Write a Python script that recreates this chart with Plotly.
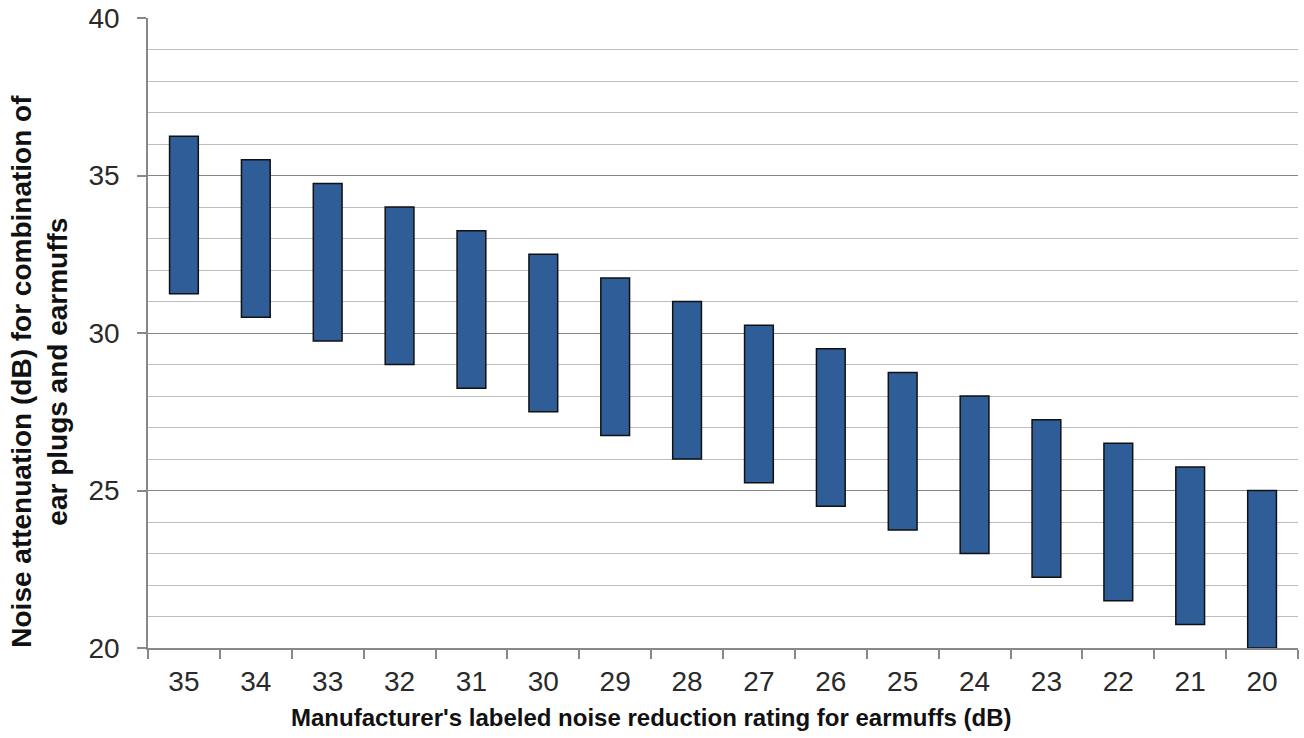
import plotly.graph_objects as go

ratings = ["35", "34", "33", "32", "31", "30", "29", "28", "27", "26", "25", "24", "23", "22", "21", "20"]
low_vals = [31.25, 30.5, 29.75, 29.0, 28.25, 27.5, 26.75, 26.0, 25.25, 24.5, 23.75, 23.0, 22.25, 21.5, 20.75, 20.0]
high_vals = [36.25, 35.5, 34.75, 34.0, 33.25, 32.5, 31.75, 31.0, 30.25, 29.5, 28.75, 28.0, 27.25, 26.5, 25.75, 25.0]
y_ticks = [20, 25, 30, 35, 40]

x_title = "Manufacturer's labeled noise reduction rating for earmuffs (dB)"
y_title = "Noise attenuation (dB) for combination of<br>ear plugs and earmuffs"

fig = go.Figure()
fig.add_trace(go.Bar(
    x=ratings,
    y=[h - l for h, l in zip(high_vals, low_vals)],
    base=low_vals,
    marker=dict(color="#2F5D98", line=dict(color="#111111", width=1.5)),
    width=0.4,
))

fig.update_layout(
    width=1304, height=738,
    margin=dict(l=148, r=6, t=18, b=90),
    paper_bgcolor="white", plot_bgcolor="white",
    font=dict(family="Liberation Sans, Arial, sans-serif", size=28, color="#2a2a2a"),
    showlegend=False,
    bargap=0.6,
    xaxis=dict(
        type="category",
        automargin=False,
        showgrid=False,
        showline=True, linecolor="#888888", linewidth=1.5,
        ticks="outside", ticklen=9, tickcolor="#888888", tickwidth=1.5,
        tickson="boundaries",
        ticklabelstandoff=8,
    ),
    yaxis=dict(
        range=[20, 40],
        automargin=False,
        tickvals=y_ticks,
        ticklabeloverflow="allow",
        showgrid=True, gridcolor="#858585", gridwidth=1.2,
        minor=dict(dtick=1, showgrid=True, gridcolor="#bdbdbd", gridwidth=1),
        showline=True, linecolor="#888888", linewidth=1.5,
        ticks="outside", ticklen=9, tickcolor="#888888", tickwidth=1.5,
        ticklabelstandoff=12,
        zeroline=False,
    ),
    annotations=[
        dict(text="<b>" + x_title + "</b>", xref="paper", yref="paper",
             x=0.437, y=-0.111, xanchor="center", yanchor="middle",
             showarrow=False, font=dict(size=24, color="#111111")),
        dict(text="<b>" + y_title + "</b>", xref="paper", yref="paper",
             x=-0.094, y=0.44, xanchor="center", yanchor="middle",
             textangle=-90, showarrow=False, align="center",
             font=dict(size=28, color="#111111")),
    ],
)

fig.write_html(
    "out.html",
    config={"displayModeBar": False},
    post_script="document.body.style.margin='0';document.body.style.overflow='hidden';",
)
